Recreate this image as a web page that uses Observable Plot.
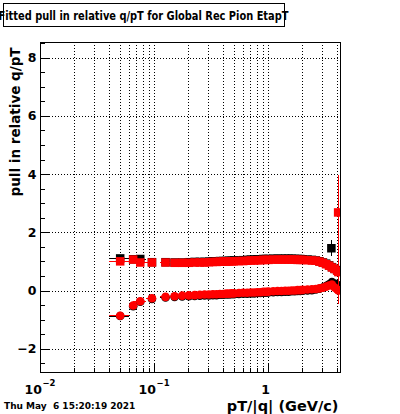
<!DOCTYPE html>
<html><head><meta charset="utf-8">
<script src="https://cdn.jsdelivr.net/npm/d3@7"></script>
<script src="https://cdn.jsdelivr.net/npm/@observablehq/plot@0.6"></script>
<style>html,body{margin:0;padding:0;background:#fff;} svg{display:block}</style>
</head><body><div id="chart"></div>
<script>
// ---- text ----
const titleText = "Fitted pull in relative q/pT for Global Rec Pion EtapT";
const xTitle = "pT/|q| (GeV/c)";
const yTitle = "pull in relative q/pT";
const dateStamp = "Thu May \u00a06 15:20:19 2021";

// ---- axes ----
const xDomain = [0.01, 4.28];
const yDomain = [-2.8, 8.54];
const xMajor = [0.01, 0.1, 1];
const xMinor = [0.02, 0.03, 0.04, 0.05, 0.06, 0.07, 0.08, 0.09, 0.2, 0.3, 0.4, 0.5, 0.6, 0.7, 0.8, 0.9, 2, 3, 4];
const xGrid = [0.02, 0.03, 0.04, 0.05, 0.06, 0.07, 0.08, 0.09, 0.1, 0.2, 0.3, 0.4, 0.5, 0.6, 0.7, 0.8, 0.9, 1, 2, 3, 4];
const xPowVals = [0.01, 0.1];
const xPowBase = ["10", "10"];
const xPowExp = ["\u22122", "\u22121"];
const xOneVal = [1];
const xOneLabel = ["1"];
const yMajor = [-2, 0, 2, 4, 6, 8];
const yTickLabels = ["\u22122", "0", "2", "4", "6", "8"];
const yMinor = [-2.5, -1.5, -1, -0.5, 0.5, 1, 1.5, 2.5, 3, 3.5, 4.5, 5, 5.5, 6.5, 7, 7.5, 8.5];

// ---- data ----
const xs = [0.05, 0.065, 0.075, 0.095, 0.125, 0.15, 0.175, 0.2, 0.225, 0.25,
  0.275, 0.3, 0.325, 0.35, 0.375, 0.4, 0.425, 0.45, 0.475, 0.5,
  0.55, 0.6, 0.65, 0.7, 0.75, 0.8, 0.85, 0.9, 0.95, 1.0,
  1.1, 1.2, 1.3, 1.4, 1.5, 1.6, 1.7, 1.8, 1.9, 2.0,
  2.2, 2.4, 2.6, 2.8, 3.0, 3.2, 3.4, 3.6, 3.8, 4.0, 4.1];
const xErr = [0.01, 0.005, 0.01, 0.01,
  0.0125, 0.0125, 0.0125, 0.0125, 0.0125, 0.0125, 0.0125, 0.0125, 0.0125, 0.0125, 0.0125, 0.0125, 0.0125, 0.0125, 0.0125, 0.0125,
  0.025, 0.025, 0.025, 0.025, 0.025, 0.025, 0.025, 0.025, 0.025, 0.025,
  0.05, 0.05, 0.05, 0.05, 0.05, 0.05, 0.05, 0.05, 0.05, 0.05,
  0.1, 0.1, 0.1, 0.1, 0.1, 0.1, 0.1, 0.1, 0.1, 0.1, 0.05];

const redHi = [1.02, 1.08, 0.98, 0.98, 0.98, 0.97, 0.97, 0.97, 0.98, 0.98,
  0.98, 0.99, 1.0, 1.0, 1.01, 1.01, 1.01, 1.02, 1.02, 1.02,
  1.03, 1.03, 1.04, 1.05, 1.05, 1.06, 1.06, 1.07, 1.07, 1.07,
  1.08, 1.08, 1.08, 1.08, 1.08, 1.08, 1.08, 1.07, 1.07, 1.07,
  1.06, 1.05, 1.04, 1.01, 0.97, 0.92, 0.87, 0.81, 0.76, 0.70, 0.65];
const redLo = [-0.85, -0.5, -0.35, -0.25, -0.2, -0.18, -0.16, -0.15, -0.14, -0.13,
  -0.12, -0.12, -0.11, -0.11, -0.1, -0.1, -0.09, -0.09, -0.08, -0.08,
  -0.07, -0.06, -0.06, -0.05, -0.05, -0.04, -0.04, -0.03, -0.03, -0.02,
  -0.01, 0.0, 0.0, 0.01, 0.01, 0.02, 0.02, 0.03, 0.03, 0.04,
  0.05, 0.06, 0.07, 0.09, 0.11, 0.15, 0.19, 0.22, 0.12, 0.05, 0.02];
const blackHi = [1.12, 1.09, 1.1, 0.99, 0.99, 0.98, 0.98, 0.99, 1.0, 1.0,
  1.0, 1.01, 1.02, 1.02, 1.03, 1.03, 1.03, 1.04, 1.04, 1.05,
  1.05, 1.06, 1.07, 1.08, 1.08, 1.09, 1.09, 1.1, 1.1, 1.1,
  1.11, 1.11, 1.11, 1.11, 1.11, 1.11, 1.1, 1.1, 1.1, 1.09,
  1.08, 1.07, 1.05, 1.02, 0.98, 0.94, 0.88, 0.82, 0.76, 0.72, 0.68];
const blackLo = [-0.86, -0.52, -0.37, -0.27, -0.22, -0.2, -0.19, -0.18, -0.17, -0.16,
  -0.15, -0.15, -0.14, -0.14, -0.13, -0.13, -0.12, -0.12, -0.11, -0.11,
  -0.1, -0.09, -0.09, -0.08, -0.08, -0.07, -0.07, -0.06, -0.06, -0.05,
  -0.04, -0.03, -0.03, -0.02, -0.02, -0.01, -0.01, 0.0, 0.0, 0.01,
  0.02, 0.03, 0.05, 0.08, 0.12, 0.17, 0.23, 0.31, 0.26, 0.2, 0.2];
const redHiErr = [0.04, 0.04, 0.03, 0.03, 0.03, 0.02, 0.02, 0.02, 0.02, 0.02,
  0.02, 0.02, 0.02, 0.02, 0.02, 0.02, 0.02, 0.02, 0.02, 0.02,
  0.02, 0.02, 0.02, 0.02, 0.02, 0.02, 0.02, 0.02, 0.02, 0.02,
  0.02, 0.02, 0.02, 0.02, 0.02, 0.02, 0.02, 0.03, 0.03, 0.03,
  0.03, 0.03, 0.04, 0.04, 0.05, 0.06, 0.07, 0.08, 0.1, 0.12, 0.8];
const redLoErr = [0.04, 0.04, 0.03, 0.03, 0.03, 0.02, 0.02, 0.02, 0.02, 0.02,
  0.02, 0.02, 0.02, 0.02, 0.02, 0.02, 0.02, 0.02, 0.02, 0.02,
  0.02, 0.02, 0.02, 0.02, 0.02, 0.02, 0.02, 0.02, 0.02, 0.02,
  0.02, 0.02, 0.02, 0.02, 0.02, 0.02, 0.02, 0.03, 0.03, 0.03,
  0.03, 0.03, 0.04, 0.04, 0.05, 0.06, 0.07, 0.08, 0.1, 0.12, 0.5];
const blackErr = [0.05, 0.04, 0.04, 0.03, 0.03, 0.02, 0.02, 0.02, 0.02, 0.02,
  0.02, 0.02, 0.02, 0.02, 0.02, 0.02, 0.02, 0.02, 0.02, 0.02,
  0.02, 0.02, 0.02, 0.02, 0.02, 0.02, 0.02, 0.02, 0.02, 0.02,
  0.02, 0.02, 0.02, 0.02, 0.02, 0.02, 0.02, 0.03, 0.03, 0.03,
  0.03, 0.03, 0.04, 0.04, 0.05, 0.06, 0.08, 0.12, 0.1, 0.15, 0.15];

// outliers
const redOutX = [4.08], redOutY = [2.7], redOutErr = [1.26];
const blackOutX = [3.56], blackOutY = [1.47], blackOutErr = [0.28];

// ---- build ----
const crisp = {shapeRendering: "crispEdges"};
function series(X, Y, YE, XE, color, symbol, r) {
  const I = d3.range(X.length);
  return [
    Plot.ruleY(I, {y: i => Y[i], x1: i => X[i] - XE[i], x2: i => X[i] + XE[i], stroke: color, strokeWidth: 1, clip: true, ...crisp}),
    Plot.ruleX(I, {x: i => X[i], y1: i => Y[i] - YE[i], y2: i => Y[i] + YE[i], stroke: color, strokeWidth: 1, clip: true, ...crisp}),
    Plot.dot(I, {x: i => X[i], y: i => Y[i], symbol, r, fill: color, clip: true})
  ];
}
const W = 400, H = 414, mL = 40, mR = 60, mT = 42, mB = 42;
const fw = W - mL - mR, fh = H - mT - mB;
const font = {fontWeight: "bold"};

const chart = Plot.plot({
  width: W, height: H,
  marginLeft: mL, marginRight: mR, marginTop: mT, marginBottom: mB,
  style: {fontFamily: "DejaVu Sans", background: "white", overflow: "visible"},
  x: {type: "log", domain: xDomain, axis: null},
  y: {domain: yDomain, axis: null},
  marks: [
    // grid
    Plot.ruleX(xGrid, {x: d => d, stroke: "black", strokeDasharray: "1,2", ...crisp}),
    Plot.ruleY(yMajor, {y: d => d, stroke: "black", strokeDasharray: "1,2", ...crisp}),
    // ticks (inside frame)
    Plot.ruleX(xMajor, {x: d => d, stroke: "black", insetTop: fh - 9, ...crisp}),
    Plot.ruleX(xMinor, {x: d => d, stroke: "black", insetTop: fh - 4.5, ...crisp}),
    Plot.ruleY(yMajor, {y: d => d, stroke: "black", insetRight: fw - 9, ...crisp}),
    Plot.ruleY(yMinor, {y: d => d, stroke: "black", insetRight: fw - 4.5, ...crisp}),
    // data
    ...series(xs, blackHi, blackErr, xErr, "black", "square", 4.8),
    ...series(xs, blackLo, blackErr, xErr, "black", "circle", 4.3),
    ...series(blackOutX, blackOutY, blackOutErr, [0.04], "black", "square", 4.8),
    ...series(xs, redHi, redHiErr, xErr, "#ff0000", "square", 4.8),
    ...series(xs, redLo, redLoErr, xErr, "#ff0000", "circle", 4.3),
    ...series(redOutX, redOutY, redOutErr, [0.02], "#ff0000", "square", 4.8),
    Plot.frame({stroke: "black", ...crisp}),
    // tick labels
    Plot.text(yMajor, {y: d => d, text: (d, i) => yTickLabels[i], frameAnchor: "left", textAnchor: "end", dx: -4, fontSize: 12.5, ...font}),
    Plot.text(xPowVals, {x: d => d, text: (d, i) => xPowBase[i], frameAnchor: "bottom", textAnchor: "end", lineAnchor: "bottom", dx: 1.5, dy: 21.5, fontSize: 12.5, ...font}),
    Plot.text(xPowVals, {x: d => d, text: (d, i) => xPowExp[i], frameAnchor: "bottom", textAnchor: "start", lineAnchor: "bottom", dx: 2, dy: 13.5, fontSize: 8.5, ...font}),
    Plot.text(xOneVal, {x: d => d, text: (d, i) => xOneLabel[i], frameAnchor: "bottom", textAnchor: "middle", lineAnchor: "bottom", dx: -3, dy: 21.5, fontSize: 12.5, ...font}),
    // titles
    Plot.text([yTitle], {text: d => d, frameAnchor: "top-left", rotate: -90, textAnchor: "end", lineAnchor: "bottom", dx: -21, dy: 5, fontSize: 13.5, ...font}),
    Plot.text([xTitle], {text: d => d, frameAnchor: "bottom-right", textAnchor: "end", lineAnchor: "bottom", dx: -2, dy: 38, fontSize: 14.5, ...font}),
    Plot.text([dateStamp], {text: d => d, frameAnchor: "bottom-left", textAnchor: "start", lineAnchor: "bottom", dx: -36.5, dy: 36, fontSize: 9, ...font})
  ]
});
document.getElementById("chart").appendChild(chart);

// title box
const svg = d3.select(chart);
svg.append("rect").attr("x", 3.5).attr("y", 3.5).attr("width", 281).attr("height", 23)
  .attr("fill", "white").attr("stroke", "black").attr("shape-rendering", "crispEdges");
svg.append("text").attr("x", 143.5).attr("y", 20)
  .attr("text-anchor", "middle").attr("font-family", "DejaVu Sans").attr("font-weight", "bold")
  .attr("font-size", 11.5).attr("textLength", 290).attr("lengthAdjust", "spacingAndGlyphs")
  .text(titleText);
</script>
</body></html>
